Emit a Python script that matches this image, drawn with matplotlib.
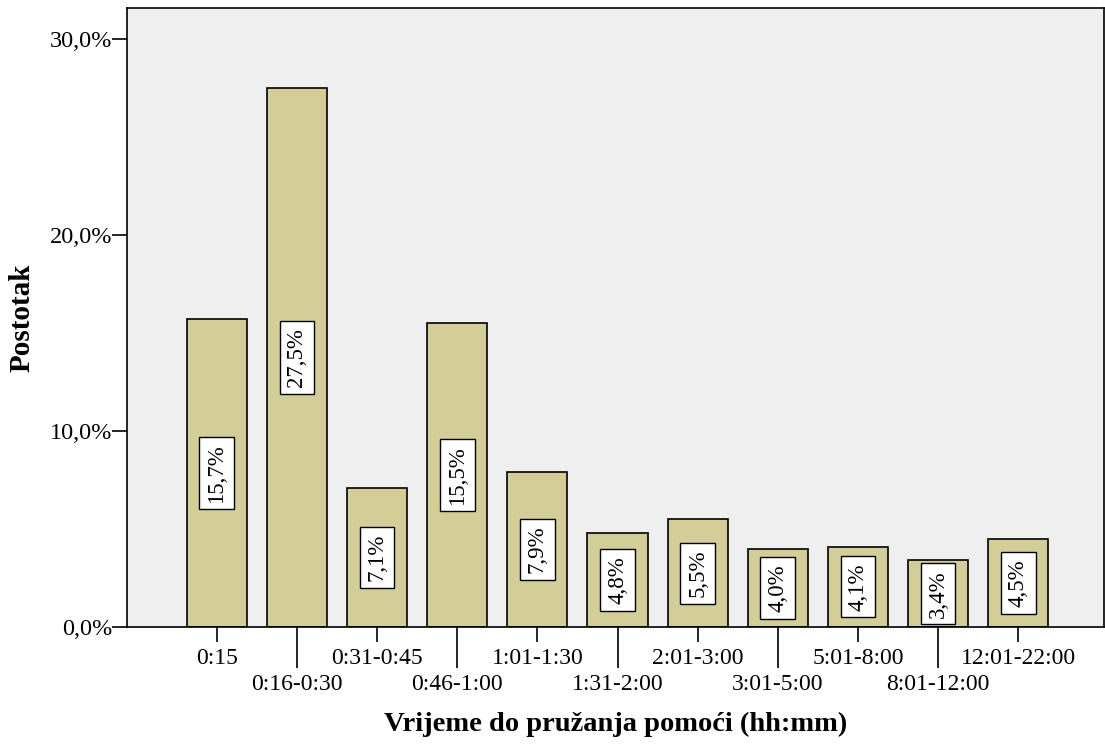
import numpy as np
import matplotlib.pyplot as plt

categories = ["0:15", "0:16-0:30", "0:31-0:45", "0:46-1:00", "1:01-1:30", "1:31-2:00",
              "2:01-3:00", "3:01-5:00", "5:01-8:00", "8:01-12:00", "12:01-22:00"]
percent = [15.7, 27.5, 7.1, 15.5, 7.9, 4.8, 5.5, 4.0, 4.1, 3.4, 4.5]
yticks = [0, 10, 20, 30]

plt.rcParams['font.family'] = ['Liberation Serif', 'DejaVu Serif']

fig = plt.figure(figsize=(11.05, 7.44), dpi=100)
ax = fig.add_axes([127 / 1105, 1 - 627 / 744, (1104 - 127) / 1105, (627 - 8) / 744])
ax.set_facecolor('#efefef')

x = np.arange(len(categories))
ax.bar(x, percent, width=0.75, color='#d3ce98', edgecolor='black', linewidth=1.2, zorder=2)

# value labels in the middle of each bar
for xi, v in zip(x, percent):
    ax.text(xi, v / 2, f"{v:.1f}%".replace('.', ','), rotation=90, ha='center', va='center',
            fontsize=16.5, zorder=3,
            bbox=dict(boxstyle='square,pad=0.3', facecolor='white', edgecolor='black', linewidth=1.0))

ax.set_xlim(-1.12, 11.07)
ax.set_ylim(0, 31.6)

ax.set_yticks(yticks)
ax.set_yticklabels([f"{t:.1f}%".replace('.', ',') for t in yticks], fontsize=17.5)
ax.tick_params(axis='y', length=10.5, width=1.2, pad=0)

# staggered x labels: even on major ticks, odd on longer minor ticks
ax.set_xticks(x[::2])
ax.set_xticklabels(categories[::2], fontsize=17)
ax.set_xticks(x[1::2], minor=True)
ax.set_xticklabels(categories[1::2], minor=True, fontsize=17)
ax.tick_params(axis='x', which='major', length=11, width=1.2, pad=4)
ax.tick_params(axis='x', which='minor', length=29.5, width=1.2, pad=4.5)

for s in ax.spines.values():
    s.set_linewidth(1.2)

ax.set_ylabel("Postotak", fontsize=21, fontweight='bold', labelpad=10)
ax.set_xlabel("Vrijeme do pružanja pomoći (hh:mm)", fontsize=20.5, fontweight='bold', labelpad=12)

fig.savefig("out.png", dpi=100)
plt.close()
